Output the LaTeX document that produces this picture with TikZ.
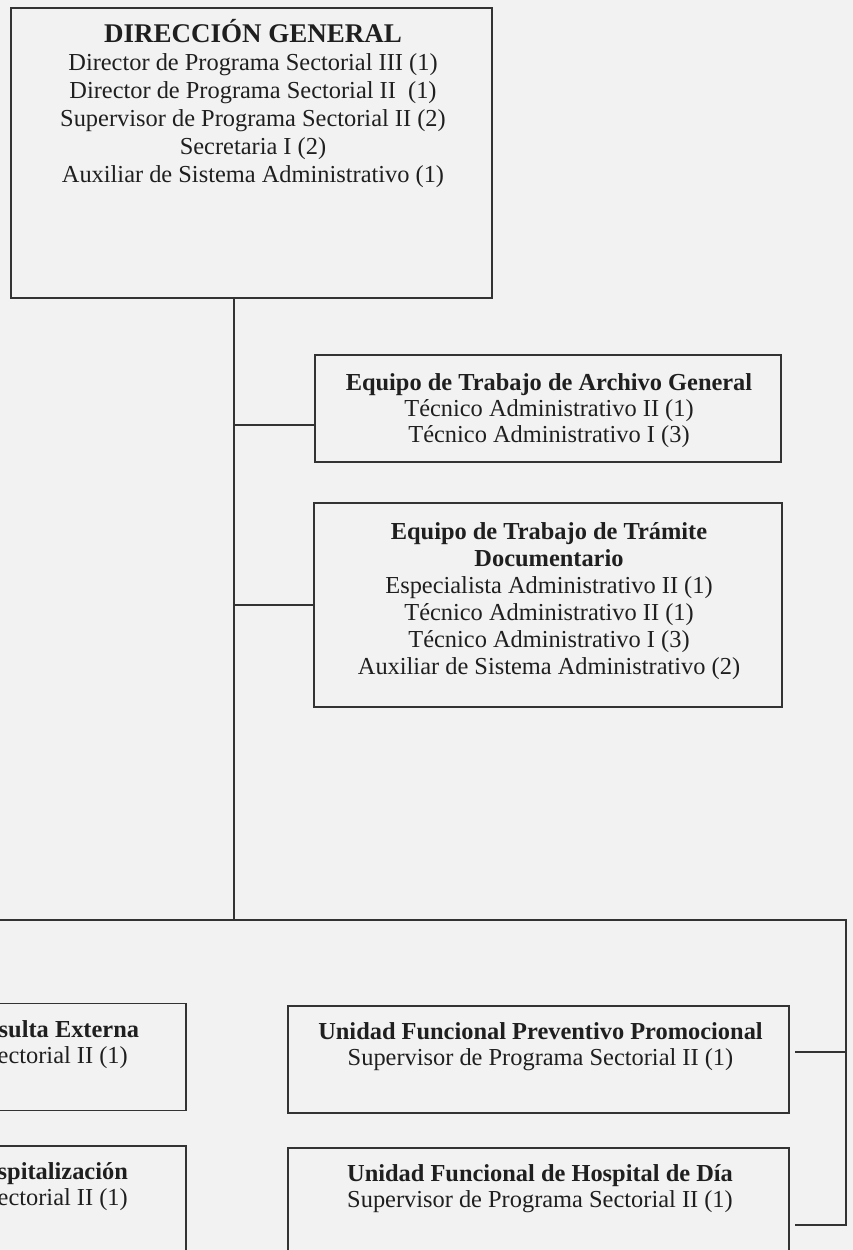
\documentclass[tikz,border=0pt]{standalone}
\usepackage{fontspec}
\setmainfont{Liberation Serif}
\definecolor{fondo}{gray}{0.95}
\definecolor{trazo}{gray}{0.2}
\definecolor{tinta}{gray}{0.12}
\tikzset{
  caja/.style={draw=trazo, line width=1.5pt, inner sep=0pt},
  texto/.style={align=center, inner sep=0pt, anchor=north, text=tinta, font=\fontsize{24.4}{#1}\selectfont},
  texto/.default=26,
  conector/.style={draw=trazo, line width=1.5pt}
}
\begin{document}
\begin{tikzpicture}[x=1pt,y=-1pt]
\useasboundingbox (0,0) rectangle (853,1250);
\fill[fondo] (0,0) rectangle (853,1250);
\clip (0,0) rectangle (853,1250);
\node[caja, minimum width=481pt, minimum height=290pt] (dg) at (251.5,153) {};
\node[caja, minimum width=466pt, minimum height=107pt] (ag) at (548,408.5) {};
\node[caja, minimum width=468pt, minimum height=204pt] (td) at (548,605) {};
\node[caja, minimum width=501pt, minimum height=107pt] (ce) at (-64.5,1057) {};
\node[caja, minimum width=501pt, minimum height=107pt] (ho) at (-64.5,1199.5) {};
\node[caja, minimum width=501pt, minimum height=107pt] (pp) at (538.5,1059.5) {};
\node[caja, minimum width=501pt, minimum height=107pt] (hd) at (538.5,1201.5) {};
\node[texto=28] (dgtxt) at (253,19) {{\fontsize{27}{28}\selectfont\bfseries DIRECCIÓN GENERAL}\\Director de Programa Sectorial III (1)\\Director de Programa Sectorial II~~(1)\\Supervisor de Programa Sectorial II (2)\\Secretaria I (2)\\Auxiliar de Sistema Administrativo (1)};
\node[texto] (agtxt) at (549,373) {\textbf{Equipo de Trabajo de Archivo General}\\Técnico Administrativo II (1)\\Técnico Administrativo I (3)};
\node[texto=27] (tdtxt) at (549,522) {\textbf{Equipo de Trabajo de Trámite}\\\textbf{Documentario}\\Especialista Administrativo II (1)\\Técnico Administrativo II (1)\\Técnico Administrativo I (3)\\Auxiliar de Sistema Administrativo (2)};
\node[texto] (cetxt) at (-65,1020) {\textbf{Unidad Funcional de Consulta Externa}\\Supervisor de Programa Sectorial II (1)};
\node[texto] (hotxt) at (-65,1162) {\textbf{Unidad Funcional de Hospitalización}\\Supervisor de Programa Sectorial II (1)};
\node[texto] (pptxt) at (540.5,1022) {\textbf{Unidad Funcional Preventivo Promocional}\\Supervisor de Programa Sectorial II (1)};
\node[texto] (hdtxt) at (540,1164) {\textbf{Unidad Funcional de Hospital de Día}\\Supervisor de Programa Sectorial II (1)};
\coordinate (troncal) at (234,920);
\coordinate (busizq) at (-20,920);
\coordinate (esquina) at (846,920);
\coordinate (ramaag) at (234,425);
\coordinate (ramapp) at (846,1052);
\coordinate (ramahd) at (846,1225);
\draw[conector] (dg.south -| troncal) -- (troncal);
\draw[conector] (ramaag) -- (ramaag -| ag.west);
\draw[conector] (td.west -| troncal) -- (td.west);
\draw[conector] (busizq) -- (esquina) -- (ramahd) -- ([xshift=5pt]ramahd -| hd.east);
\draw[conector] (ramapp) -- ([xshift=5pt]ramapp -| pp.east);
\end{tikzpicture}
\end{document}
